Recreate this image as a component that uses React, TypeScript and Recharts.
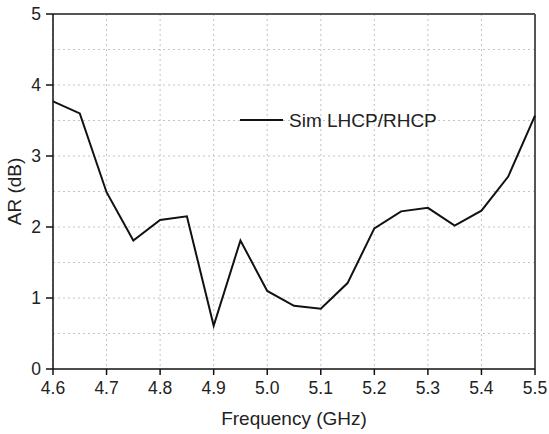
import React from 'react';
import {
  LineChart,
  Line,
  XAxis,
  YAxis,
  CartesianGrid,
  ReferenceLine,
} from 'recharts';

const freqs = [
  4.6, 4.65, 4.7, 4.75, 4.8, 4.85, 4.9, 4.95, 5.0, 5.05, 5.1, 5.15, 5.2, 5.25,
  5.3, 5.35, 5.4, 5.45, 5.5,
];
const arSim = [
  3.77, 3.6, 2.49, 1.81, 2.1, 2.15, 0.61, 1.81, 1.1, 0.89, 0.85, 1.21, 1.98,
  2.22, 2.27, 2.02, 2.23, 2.71, 3.57,
];
const xMajor = [4.6, 4.7, 4.8, 4.9, 5.0, 5.1, 5.2, 5.3, 5.4, 5.5];
const xMinor = [4.65, 4.75, 4.85, 4.95, 5.05, 5.15, 5.25, 5.35, 5.45];
const yMajor = [0, 1, 2, 3, 4, 5];
const yMinor = [0.5, 1.5, 2.5, 3.5, 4.5];
const yGrid = [0.5, 1, 1.5, 2, 2.5, 3, 3.5, 4, 4.5];
const seriesName = 'Sim LHCP/RHCP';

const data = freqs.map((f, i) => ({ f, ar: arSim[i] }));

const FONT = 'Liberation Sans, Arial, sans-serif';
const tickFont = { fontSize: 17.5, fontFamily: FONT, fill: '#222' };
const tickStroke = { stroke: '#111', strokeWidth: 1.5 };
const gridStroke = '#c4c4c4';

export default function App() {
  return (
    <div style={{ position: 'absolute', left: 0, top: 0, width: 549, height: 434, background: '#fff' }}>
      <LineChart
        width={549}
        height={434}
        data={data}
        margin={{ top: 14, right: 14, left: 0, bottom: 0 }}
      >
        <CartesianGrid horizontal={false} stroke={gridStroke} strokeDasharray="2 3" />
        {yGrid.map((g) => (
          <ReferenceLine key={g} y={g} stroke={gridStroke} strokeDasharray="2 3" />
        ))}
        {/* minor ticks, empty labels */}
        <XAxis
          xAxisId="minor"
          dataKey="f"
          type="number"
          domain={[4.6, 5.5]}
          ticks={xMinor}
          interval={0}
          height={0}
          tickSize={3}
          tickFormatter={() => ''}
          axisLine={false}
          tickLine={tickStroke}
        />
        <XAxis
          dataKey="f"
          type="number"
          domain={[4.6, 5.5]}
          ticks={xMajor}
          interval={0}
          height={65}
          tickSize={6}
          tickMargin={7}
          tickFormatter={(v) => v.toFixed(1)}
          tickLine={tickStroke}
          axisLine={tickStroke}
          tick={tickFont}
          label={{
            value: 'Frequency (GHz)',
            position: 'insideBottom',
            offset: 9,
            fontSize: 19,
            fontFamily: FONT,
            fill: '#222',
          }}
        />
        <YAxis
          yAxisId="minor"
          type="number"
          domain={[0, 5]}
          ticks={yMinor}
          interval={0}
          width={0}
          tickSize={3}
          tickFormatter={() => ''}
          axisLine={false}
          tickLine={tickStroke}
        />
        <YAxis
          type="number"
          domain={[0, 5]}
          ticks={yMajor}
          interval={0}
          width={53}
          tickSize={7}
          tickMargin={5}
          tickLine={tickStroke}
          axisLine={tickStroke}
          tick={tickFont}
          label={{
            value: 'AR (dB)',
            angle: -90,
            position: 'insideLeft',
            offset: 14,
            fontSize: 19,
            fontFamily: FONT,
            fill: '#222',
            style: { textAnchor: 'middle' },
          }}
        />
        <ReferenceLine y={5} stroke="#555" strokeWidth={2} />
        <ReferenceLine x={5.5} stroke="#555" strokeWidth={2} />
        <Line
          type="linear"
          dataKey="ar"
          name={seriesName}
          stroke="#111"
          strokeWidth={2}
          dot={false}
          isAnimationActive={false}
        />
      </LineChart>
      <svg
        width={220}
        height={24}
        style={{ position: 'absolute', left: 240, top: 109 }}
      >
        <line x1={0} y1={11} x2={43} y2={11} stroke="#111" strokeWidth={2} />
        <text x={49} y={18} fontSize={19} fontFamily={FONT} fill="#222">
          {seriesName}
        </text>
      </svg>
    </div>
  );
}
